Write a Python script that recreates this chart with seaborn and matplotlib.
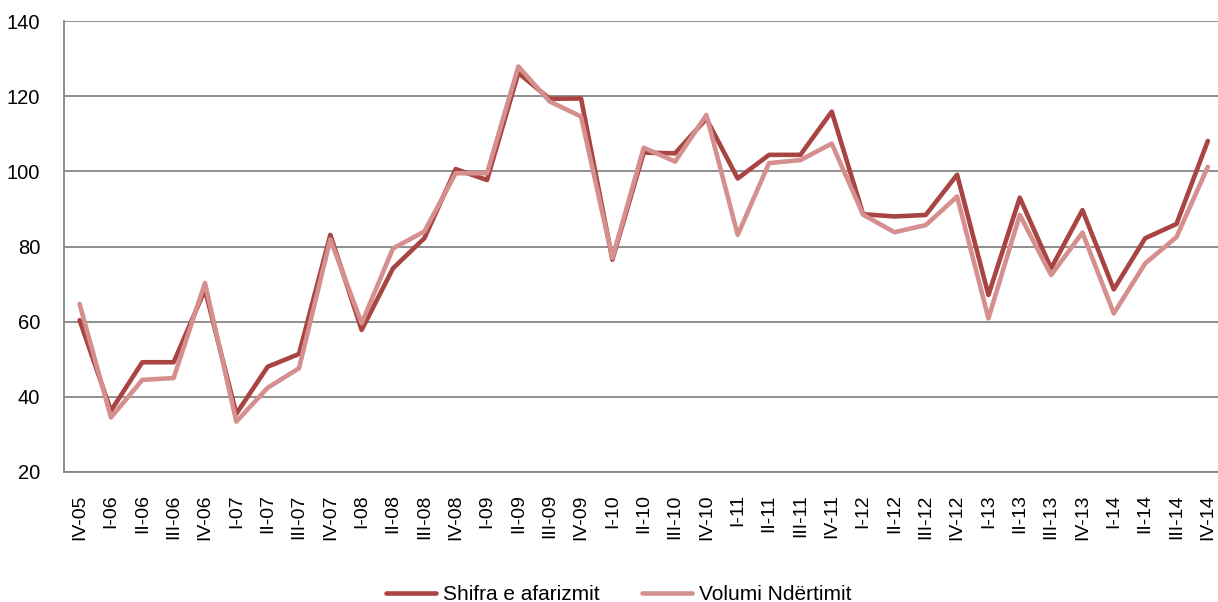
import pandas as pd
import seaborn as sns
import matplotlib.pyplot as plt
from matplotlib.ticker import FixedLocator

# Quarters IV-05 ... IV-14
quarters = ["IV-05",
            "I-06", "II-06", "III-06", "IV-06",
            "I-07", "II-07", "III-07", "IV-07",
            "I-08", "II-08", "III-08", "IV-08",
            "I-09", "II-09", "III-09", "IV-09",
            "I-10", "II-10", "III-10", "IV-10",
            "I-11", "II-11", "III-11", "IV-11",
            "I-12", "II-12", "III-12", "IV-12",
            "I-13", "II-13", "III-13", "IV-13",
            "I-14", "II-14", "III-14", "IV-14"]

shifra = [60.4, 36.3, 49.2, 49.2, 68.5, 35.5, 48.0, 51.4, 83.1,
          57.8, 74.2, 82.2, 100.6, 97.7, 126.2, 119.3, 119.4,
          76.5, 105.0, 104.8, 114.0, 98.1, 104.4, 104.4, 115.9,
          88.6, 88.0, 88.4, 99.1, 67.1, 93.0, 74.2, 89.7,
          68.6, 82.2, 86.0, 108.1]

volumi = [64.7, 34.5, 44.5, 45.0, 70.3, 33.4, 42.4, 47.6, 81.9,
          59.6, 79.5, 84.0, 99.5, 99.5, 127.9, 118.6, 114.6,
          76.9, 106.3, 102.6, 115.0, 83.1, 102.2, 103.0, 107.4,
          88.5, 83.8, 85.7, 93.3, 60.9, 88.4, 72.4, 83.7,
          62.2, 75.5, 82.5, 101.2]

series_names = ["Shifra e afarizmit", "Volumi Ndërtimit"]
colors = ["#A84442", "#D48F8E"]

sns.set_style("white")
plt.rcParams['font.family'] = ['Liberation Sans', 'DejaVu Sans']

df = pd.DataFrame({"quarter": quarters, series_names[0]: shifra, series_names[1]: volumi})

fig = plt.figure(figsize=(12.18, 6.02), dpi=100)
ax = fig.add_axes([0.0525, 0.216, 0.952, 0.749])

for name, col in zip(series_names, colors):
    sns.lineplot(data=df, x="quarter", y=name, color=col, linewidth=3.3,
                 sort=False, ax=ax, label=name)

n = len(quarters)
ax.set_xlim(-0.5, n - 0.5)
ax.set_ylim(20, 140)
ax.set_yticks(range(20, 141, 20))
ax.set_xlabel("")
ax.set_ylabel("")

# gridlines
ax.yaxis.grid(True, color="#868686", linewidth=1.3)
ax.set_axisbelow(True)

# ticks: labels at category centres, tick marks between categories
ax.tick_params(axis="x", which="major", length=0, rotation=90, labelsize=14,
               pad=16, labelcolor="black")
ax.xaxis.set_minor_locator(FixedLocator([i - 0.5 for i in range(n + 1)]))
ax.tick_params(axis="x", which="minor", length=6, width=1, color="#868686", direction="out")
ax.tick_params(axis="y", length=6, width=1, color="#868686", direction="out",
               labelsize=14.5, pad=11, labelcolor="black")

for s in ["top", "right"]:
    ax.spines[s].set_visible(False)
for s in ["left", "bottom"]:
    ax.spines[s].set_color("#868686")
    ax.spines[s].set_linewidth(1.3)

ax.get_legend().remove()
handles, labels = ax.get_legend_handles_labels()
leg = fig.legend(handles, labels, loc="lower center", bbox_to_anchor=(0.508, -0.035),
                 ncol=2, frameon=False, fontsize=15, handlelength=2.4,
                 columnspacing=2.0, handletextpad=0.35)
for t in leg.get_texts():
    t.set_color("black")

plt.savefig("out.png", dpi=100)
